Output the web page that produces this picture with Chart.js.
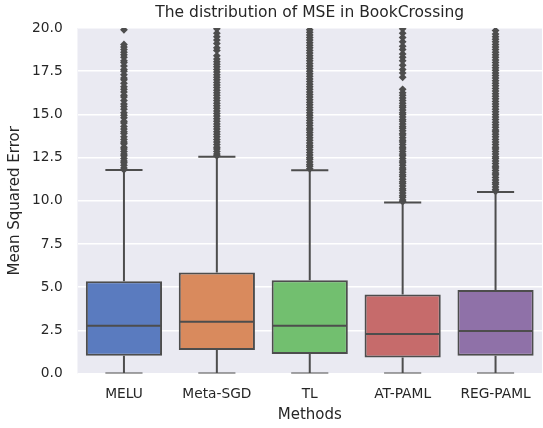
<!DOCTYPE html>
<html>
<head>
<meta charset="utf-8">
<script src="https://cdn.jsdelivr.net/npm/chart.js@4/dist/chart.umd.min.js"></script>
<style>
  html, body { margin: 0; padding: 0; background: #fff; overflow: hidden; }
  #wrap { width: 546px; height: 428px; }
</style>
</head>
<body>
<div id="wrap"><canvas id="mseChart" width="546" height="428"></canvas></div>
<script>
// данные
const categories = ['MELU', 'Meta-SGD', 'TL', 'AT-PAML', 'REG-PAML'];
const whiskerLow = [0, 0, 0, 0, 0];
const q1 = [1.03, 1.36, 1.13, 0.93, 1.03];
const median = [2.77, 3.0, 2.77, 2.29, 2.46];
const q3 = [5.34, 5.84, 5.40, 4.57, 4.84];
const whiskerHigh = [11.78, 12.55, 11.76, 9.9, 10.5];
const yTicks = [0, 2.5, 5, 7.5, 10, 12.5, 15, 17.5, 20];

// выбросы (ромбики) по каждому методу
const outliersMELU = [11.8, 11.9, 12.05, 12.2, 12.3, 12.45, 12.6, 12.7, 12.85, 13.0, 13.1, 13.3, 13.4, 13.55,
    13.7, 13.9, 14.0, 14.15, 14.3, 14.5, 14.6, 14.8, 14.95, 15.1, 15.3, 15.45, 15.6, 15.8, 16.0, 16.1, 16.3,
    16.45, 16.6, 16.8, 17.0, 17.1, 17.3, 17.5, 17.6, 17.8, 18.0, 18.1, 18.3, 18.45, 18.6, 18.75, 18.9, 19.05, 19.9];
const outliersMetaSGD = [12.6, 12.7, 12.85, 13.0, 13.1, 13.25, 13.4, 13.55, 13.7, 13.85, 14.0, 14.15, 14.3,
    14.45, 14.6, 14.75, 14.9, 15.05, 15.2, 15.35, 15.5, 15.65, 15.8, 15.95, 16.1, 16.25, 16.4, 16.55, 16.7,
    16.85, 17.0, 17.15, 17.3, 17.45, 17.6, 17.75, 17.9, 18.05, 18.2, 18.4, 18.7, 18.85, 19.1, 19.3, 19.5, 19.7, 19.95];
const outliersTL = [11.85, 12.0, 12.1, 12.25, 12.4, 12.5, 12.65, 12.8, 12.95, 13.1, 13.2, 13.35, 13.5, 13.65,
    13.8, 13.95, 14.1, 14.2, 14.35, 14.5, 14.65, 14.8, 14.95, 15.1, 15.25, 15.4, 15.55, 15.7, 15.85, 16.0,
    16.15, 16.3, 16.45, 16.6, 16.75, 16.9, 17.05, 17.2, 17.35, 17.5, 17.65, 17.8, 17.95, 18.1, 18.25, 18.4,
    18.55, 18.7, 18.85, 19.0, 19.15, 19.3, 19.45, 19.6, 19.75, 19.9];
const outliersATPAML = [9.95, 10.05, 10.2, 10.3, 10.45, 10.6, 10.7, 10.85, 11.0, 11.1, 11.25, 11.4, 11.5,
    11.65, 11.8, 11.9, 12.05, 12.2, 12.3, 12.45, 12.6, 12.7, 12.85, 13.0, 13.1, 13.25, 13.4, 13.5, 13.65,
    13.8, 13.9, 14.05, 14.2, 14.3, 14.45, 14.6, 14.7, 14.85, 15.0, 15.1, 15.25, 15.4, 15.5, 15.65, 15.8,
    15.95, 16.1, 16.25, 16.45, 17.15, 17.4, 17.6, 17.85, 18.1, 18.3, 18.5, 18.75, 18.95, 19.2, 19.45, 19.7, 19.95];
const outliersREGPAML = [10.55, 10.65, 10.8, 10.95, 11.05, 11.2, 11.35, 11.5, 11.6, 11.75, 11.9, 12.0,
    12.15, 12.3, 12.45, 12.55, 12.7, 12.85, 13.0, 13.1, 13.25, 13.4, 13.55, 13.7, 13.85, 14.0, 14.1, 14.25,
    14.4, 14.55, 14.7, 14.85, 15.0, 15.15, 15.3, 15.45, 15.6, 15.75, 15.9, 16.05, 16.2, 16.35, 16.5, 16.65,
    16.8, 16.95, 17.1, 17.25, 17.4, 17.55, 17.7, 17.85, 18.0, 18.15, 18.3, 18.45, 18.6, 18.75, 18.9, 19.05,
    19.2, 19.35, 19.5, 19.65, 19.85];
const outliers = [outliersMELU, outliersMetaSGD, outliersTL, outliersATPAML, outliersREGPAML];

const boxColors = ['#5a7bbf', '#d98a5d', '#72bf6f', '#c66b6b', '#8f71a8'];
const lineColor = '#4d4d4d';
const textColor = '#262626';

// усы, засечки и медианы -- одна ломаная с разрывами (y: null)
function boxLines(i) {
    return [
        {x: i - 0.2, y: whiskerLow[i]}, {x: i + 0.2, y: whiskerLow[i]}, {x: i, y: null},
        {x: i, y: whiskerLow[i]}, {x: i, y: q1[i]}, {x: i, y: null},
        {x: i, y: q3[i]}, {x: i, y: whiskerHigh[i]}, {x: i, y: null},
        {x: i - 0.2, y: whiskerHigh[i]}, {x: i + 0.2, y: whiskerHigh[i]}, {x: i, y: null},
        {x: i - 0.4, y: median[i]}, {x: i + 0.4, y: median[i]}
    ];
}

const datasets = [];
categories.forEach((c, i) => {
    datasets.push({
        type: 'line',
        label: c + ' lines',
        data: boxLines(i),
        borderColor: lineColor,
        borderWidth: 2,
        pointRadius: 0,
        spanGaps: false,
        order: 0
    });
    datasets.push({
        type: 'line',
        label: c + ' outliers',
        data: outliers[i].map(v => ({x: i, y: v})),
        showLine: false,
        pointStyle: 'rectRot',
        pointRadius: 3.9,
        pointBackgroundColor: lineColor,
        pointBorderColor: lineColor,
        pointBorderWidth: 0,
        order: 0
    });
});
datasets.push({
    type: 'bar',
    label: 'boxes',
    data: categories.map((c, i) => ({x: i, y: [q1[i], q3[i]]})),
    backgroundColor: boxColors,
    borderColor: lineColor,
    borderWidth: 2,
    borderSkipped: false,
    barPercentage: 1,
    categoryPercentage: 0.82, // рамка рисуется внутрь, поэтому чуть шире 0.8
    order: 1
});

// серый фон области графика как в seaborn darkgrid
const plotBg = {
    id: 'plotBg',
    beforeDraw(chart) {
        const a = chart.chartArea;
        const ctx = chart.ctx;
        ctx.save();
        ctx.fillStyle = '#eaeaf2';
        ctx.fillRect(a.left, a.top, a.right - a.left, a.bottom - a.top);
        ctx.restore();
    }
};

const font = (size) => ({family: 'DejaVu Sans', size: size});

new Chart(document.getElementById('mseChart').getContext('2d'), {
    type: 'bar',
    data: {datasets: datasets},
    plugins: [plotBg],
    options: {
        responsive: false,
        animation: false,
        layout: {padding: 0},
        scales: {
            x: {
                type: 'linear',
                min: -0.5,
                max: 4.5,
                offset: false,
                afterBuildTicks: scale => { scale.ticks = categories.map((c, i) => ({value: i})); },
                afterFit: scale => { scale.height = 54.5; },
                ticks: {callback: v => categories[v], color: textColor, font: font(13.75), padding: 13},
                grid: {display: false, drawTicks: false},
                border: {display: false},
                title: {
                    display: true,
                    text: 'Methods',
                    color: textColor,
                    font: font(15),
                    padding: {top: 0, bottom: 4.3}
                }
            },
            // верхняя ось только для заголовка, чтобы он центрировался по области графика
            top: {
                type: 'linear',
                position: 'top',
                min: -0.5,
                max: 4.5,
                afterFit: scale => { scale.height = 28; },
                ticks: {display: false},
                grid: {display: false, drawTicks: false},
                border: {display: false},
                title: {
                    display: true,
                    text: 'The distribution of MSE in BookCrossing',
                    color: textColor,
                    font: font(15.5),
                    padding: {top: 3.5, bottom: 0}
                }
            },
            y: {
                min: 0,
                max: 20,
                afterBuildTicks: scale => { scale.ticks = yTicks.map(v => ({value: v})); },
                afterFit: scale => { scale.width = 77.5; },
                ticks: {callback: v => v.toFixed(1), color: textColor, font: font(13.75), padding: 14.8},
                grid: {color: '#ffffff', lineWidth: 1.5, drawTicks: false},
                border: {display: false},
                title: {
                    display: true,
                    text: 'Mean Squared Error',
                    color: textColor,
                    font: font(15),
                    padding: {top: 6.5, bottom: 0}
                }
            }
        },
        plugins: {
            legend: {display: false},
            tooltip: {enabled: false},
            title: {display: false}
        }
    }
});
</script>
</body>
</html>
